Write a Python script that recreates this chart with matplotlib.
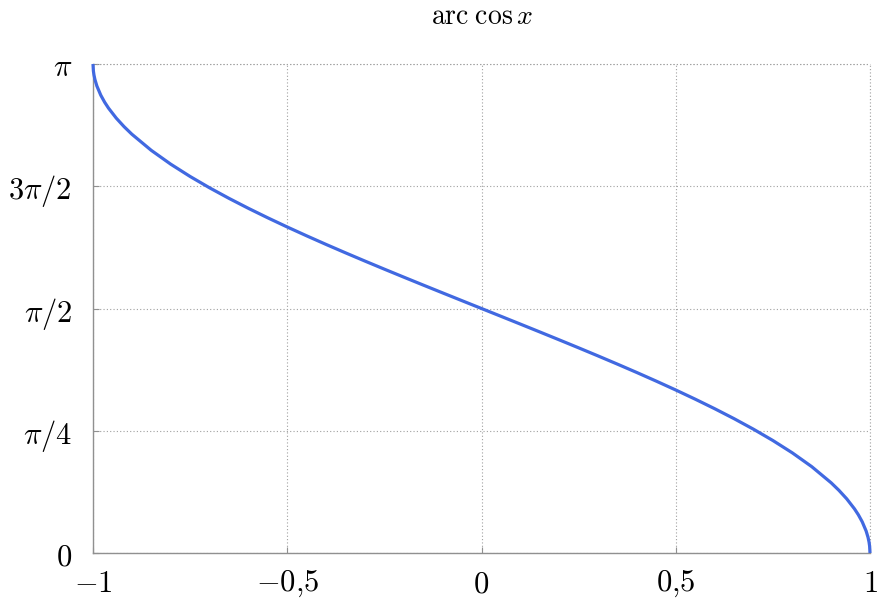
import matplotlib
matplotlib.use("Agg")
import matplotlib.pyplot as plt
import numpy as np

plt.rcParams['mathtext.fontset'] = 'cm'
plt.rcParams['font.family'] = ['DejaVu Serif']

# Curve samples
x_vals = [-1.0, -0.999, -0.9975, -0.995, -0.99, -0.98, -0.97, -0.96, -0.94, -0.92, -0.9,
          -0.85, -0.8, -0.75, -0.7, -0.65, -0.6, -0.55, -0.5, -0.45, -0.4, -0.35, -0.3,
          -0.25, -0.2, -0.15, -0.1, -0.05, 0.0, 0.05, 0.1, 0.15, 0.2, 0.25, 0.3, 0.35,
          0.4, 0.45, 0.5, 0.55, 0.6, 0.65, 0.7, 0.75, 0.8, 0.85, 0.9, 0.92, 0.94, 0.96,
          0.97, 0.98, 0.99, 0.995, 0.9975, 0.999, 1.0]
y_vals = [3.1416, 3.0969, 3.0709, 3.0415, 3.0001, 2.9413, 2.8960, 2.8578, 2.7934, 2.7389, 2.6906,
          2.5868, 2.4981, 2.4189, 2.3462, 2.2784, 2.2143, 2.1532, 2.0944, 2.0376, 1.9823, 1.9284, 1.8755,
          1.8235, 1.7722, 1.7214, 1.6710, 1.6208, 1.5708, 1.5208, 1.4706, 1.4202, 1.3694, 1.3181, 1.2661, 1.2132,
          1.1593, 1.1040, 1.0472, 0.9884, 0.9273, 0.8632, 0.7954, 0.7227, 0.6435, 0.5548, 0.4510, 0.4027, 0.3482, 0.2838,
          0.2456, 0.2003, 0.1415, 0.1001, 0.0707, 0.0447, 0.0]

x_ticks = [-1, -0.5, 0, 0.5, 1]
x_ticklabels = [r'$-1$', r'$-0{,}5$', r'$0$', r'$0{,}5$', r'$1$']
y_ticks = [0, np.pi / 4, np.pi / 2, 3 * np.pi / 4, np.pi]
y_ticklabels = [r'$0$', r'$\pi/4$', r'$\pi/2$', r'$3\pi/2$', r'$\pi$']
title = r'$\mathrm{arc}\;\cos x$'

fig = plt.figure(figsize=(8.79, 5.98), dpi=100)
ax = fig.add_axes([93 / 879, 1 - 553 / 598, (870 - 93) / 879, (553 - 64) / 598])

ax.plot(x_vals, y_vals, color='#4169E1', lw=2.3, clip_on=False, zorder=5,
        solid_capstyle='butt')

ax.set_xlim(-1, 1)
ax.set_ylim(0, np.pi)
ax.set_xticks(x_ticks)
ax.set_xticklabels(x_ticklabels)
ax.set_yticks(y_ticks)
ax.set_yticklabels(y_ticklabels)

for s in ['top', 'right']:
    ax.spines[s].set_visible(False)
for s in ['left', 'bottom']:
    ax.spines[s].set_color('#909090')
    ax.spines[s].set_linewidth(1.0)

ax.grid(True, color='#a0a0a0', linestyle=(0, (1, 2)), linewidth=0.8)
# top and right boundary as dotted grid lines
ax.axhline(np.pi, color='#a0a0a0', linestyle=(0, (1, 2)), linewidth=0.8, clip_on=False)
ax.axvline(1, color='#a0a0a0', linestyle=(0, (1, 2)), linewidth=0.8, clip_on=False)

ax.tick_params(axis='both', direction='in', length=4, width=0.8, color='#909090',
               labelsize=22)
ax.tick_params(axis='x', pad=11)
ax.tick_params(axis='y', pad=15)
ax.set_title(title, fontsize=20, pad=29)

fig.savefig('out.png', dpi=100)
